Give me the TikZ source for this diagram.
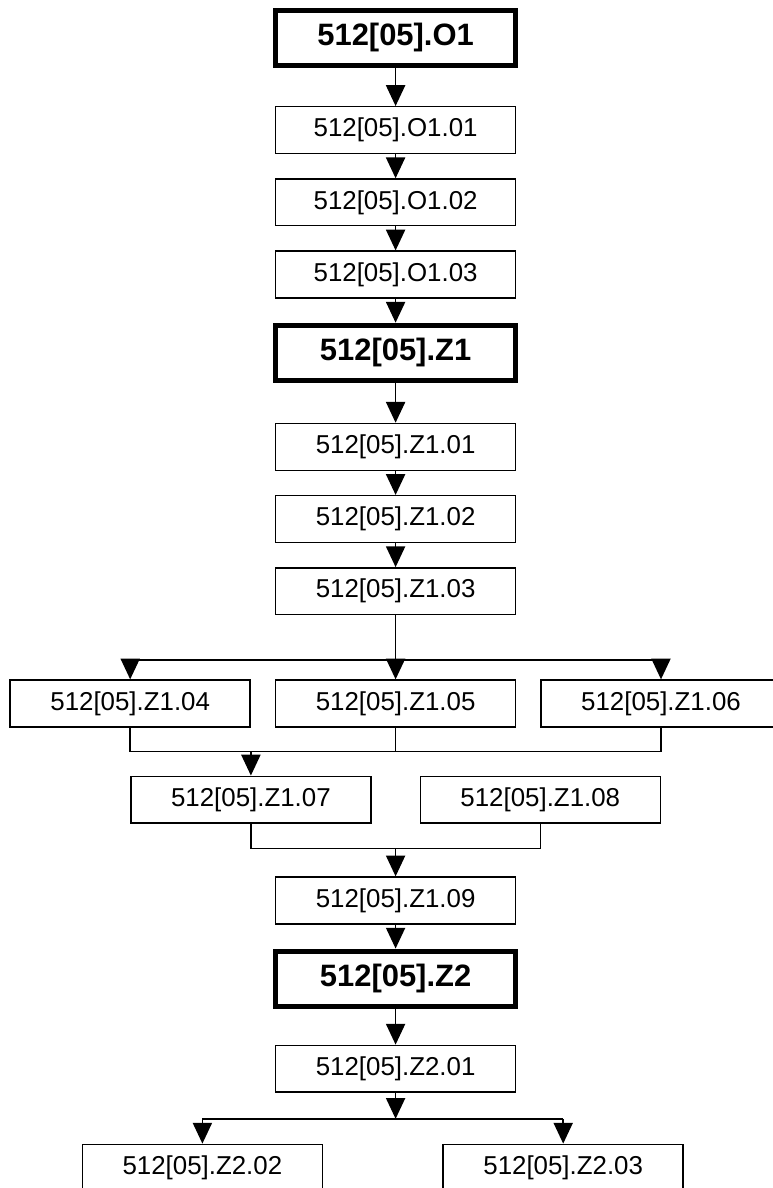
\documentclass[tikz,border=0pt]{standalone}
\usepackage{fontspec}
\setmainfont{Liberation Sans}
\usetikzlibrary{arrows.meta,positioning}

\begin{document}
\begin{tikzpicture}[node distance=0.6cm, line width=1pt, box/.style={draw,line width=1pt,minimum width=6cm,minimum height=1.17cm,inner sep=2pt,font=\fontsize{18.4}{22}\selectfont}, bigbox/.style={draw,line width=3.6pt,minimum width=6cm,minimum height=1.375cm,inner sep=2pt,font=\fontsize{22}{26}\selectfont\bfseries}, >={Triangle[length=5.2mm,width=4.8mm]}]
\useasboundingbox (-9.89,0.95) rectangle (9.41,-28.75);
\node[bigbox] (o1) at (0,0) {512[05].O1};
\node[box,below=0.95cm of o1] (o101) {512[05].O1.01};
\node[box,below=of o101] (o102) {512[05].O1.02};
\node[box,below=of o102] (o103) {512[05].O1.03};
\node[bigbox,below=of o103] (z1) {512[05].Z1};
\node[box,below=1cm of z1] (z101) {512[05].Z1.01};
\node[box,below=of z101] (z102) {512[05].Z1.02};
\node[box,below=of z102] (z103) {512[05].Z1.03};
\node[box,below=1.6cm of z103] (z105) {512[05].Z1.05};
\node[box,left=of z105] (z104) {512[05].Z1.04};
\node[box,right=of z105] (z106) {512[05].Z1.06};
\node[box,below=1.2cm of z104.south east] (z107) {512[05].Z1.07};
\node[box,below=1.2cm of z106.south west] (z108) {512[05].Z1.08};
\node[box,below=3.72cm of z105] (z109) {512[05].Z1.09};
\node[bigbox,below=of z109] (z2) {512[05].Z2};
\node[box,below=0.9cm of z2] (z201) {512[05].Z2.01};
\coordinate[below=0.65cm of z201] (sd);
\node[box,below=0.62cm of sd,xshift=-4.83cm] (z202) {512[05].Z2.02};
\node[box,below=0.62cm of sd,xshift=4.19cm] (z203) {512[05].Z2.03};
\coordinate[above=0.48cm of z105] (sa);
\coordinate[below=0.6cm of z105] (mb);
\coordinate[above=0.7cm of z109] (mc);
\draw[->] (o1)--(o101); \draw[->] (o101)--(o102); \draw[->] (o102)--(o103); \draw[->] (o103)--(z1);
\draw[->] (z1)--(z101); \draw[->] (z101)--(z102); \draw[->] (z102)--(z103); \draw[->] (z103)--(z105);
\draw (sa -| z104)--(sa -| z106); \draw[->] (sa -| z104)--(z104); \draw[->] (sa -| z106)--(z106);
\draw (z104) |- (z106 |- mb) -- (z106); \draw (z105)--(mb); \draw[->] (z107 |- mb)--(z107);
\draw (z107) |- (z108 |- mc) -- (z108); \draw[->] (mc)--(z109);
\draw[->] (z109)--(z2); \draw[->] (z2)--(z201); \draw[->] (z201)--(sd);
\draw (sd -| z202)--(sd -| z203); \draw[->] (sd -| z202)--(z202); \draw[->] (sd -| z203)--(z203);
\end{tikzpicture}
\end{document}
